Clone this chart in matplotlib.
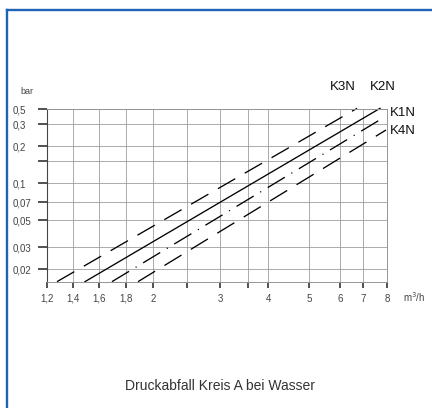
import numpy as np
import matplotlib
matplotlib.use("Agg")
import matplotlib.pyplot as plt
from matplotlib.lines import Line2D

plt.rcParams['font.family'] = ['Liberation Sans', 'DejaVu Sans']
plt.rcParams['lines.scale_dashes'] = False

# ---- data ----
x_ticks = [1.2, 1.4, 1.6, 1.8, 2.0, 2.5, 3.0, 3.5, 4.0, 5.0, 6.0, 7.0, 8.0]
x_tick_labels = ['1,2', '1,4', '1,6', '1,8', '2', '', '3', '', '4', '5', '6', '7', '8']
# axis calibration of the printed (non-uniform) flow scale
x_axis_pos = [47, 73, 99, 126, 153, 187, 220, 248, 268, 309, 340, 363, 387]

y_ticks = [0.02, 0.03, 0.05, 0.07, 0.1, 0.15, 0.2, 0.3, 0.4]
y_tick_labels = ['0,02', '0,03', '0,05', '0,07', '0,1', '', '0,2', '0,3', '0,5']

series_names = ['K3N', 'K2N', 'K1N', 'K4N']
flow_k3n = [1.277, 6.74]
dp_k3n = [0.0158, 0.405]
flow_k2n = [1.492, 7.71]
dp_k2n = [0.0158, 0.405]
flow_k1n = [1.696, 7.83]
dp_k1n = [0.0158, 0.338]
flow_k4n = [1.889, 7.96]
dp_k4n = [0.0158, 0.270]

title = 'Druckabfall Kreis A bei Wasser'

# ---- scale ----
xv = np.array(x_ticks, float)
xp = np.array(x_axis_pos, float)

def fwd(x):
    x = np.asarray(x, float)
    y = np.interp(x, xv, xp)
    lo = x < xv[0]
    hi = x > xv[-1]
    y = np.where(lo, xp[0] + (x - xv[0]) * (xp[1] - xp[0]) / (xv[1] - xv[0]), y)
    y = np.where(hi, xp[-1] + (x - xv[-1]) * (xp[-1] - xp[-2]) / (xv[-1] - xv[-2]), y)
    return y

def inv(p):
    p = np.asarray(p, float)
    x = np.interp(p, xp, xv)
    lo = p < xp[0]
    hi = p > xp[-1]
    x = np.where(lo, xv[0] + (p - xp[0]) * (xv[1] - xv[0]) / (xp[1] - xp[0]), x)
    x = np.where(hi, xv[-1] + (p - xp[-1]) * (xv[-1] - xv[-2]) / (xp[-1] - xp[-2]), x)
    return x

W, H = 432, 408
fig = plt.figure(figsize=(W / 100, H / 100), dpi=100)
fig.patch.set_facecolor('white')
ax = fig.add_axes([47 / W, (H - 282) / H, (387 - 47) / W, (282 - 109) / H])
ax.set_xscale('function', functions=(fwd, inv))
ax.set_yscale('log')
ax.set_xlim(1.2, 8.0)
ax.set_ylim(0.0157, 0.4)

grid_c = '#959595'
ax.set_xticks(x_ticks)
ax.set_xticklabels(x_tick_labels)
ax.set_yticks(y_ticks)
ax.set_yticklabels(y_tick_labels)
ax.xaxis.set_minor_locator(matplotlib.ticker.NullLocator())
ax.yaxis.set_minor_locator(matplotlib.ticker.NullLocator())
ax.grid(True, color=grid_c, lw=0.55)
ax.set_axisbelow(True)

ax.tick_params(axis='x', direction='out', length=4.5, width=1.1, color='#222',
               labelsize=7, labelcolor='#444', pad=4)
ax.tick_params(axis='y', direction='out', length=6.5, width=1.1, color='#222',
               labelsize=7, labelcolor='#444', pad=18.5)
for lbl in ax.get_yticklabels():
    lbl.set_horizontalalignment('left')

for s in ['top', 'right', 'bottom']:
    ax.spines[s].set_color(grid_c)
    ax.spines[s].set_linewidth(0.7)
ax.spines['left'].set_color('#444')
ax.spines['left'].set_linewidth(0.8)

lw = 0.95
ax.plot(flow_k3n, dp_k3n, color='black', lw=lw, dashes=(14.4, 7.9), clip_on=False)
ax.plot(flow_k2n, dp_k2n, color='black', lw=lw, clip_on=False)
ax.plot(flow_k1n, dp_k1n, color='black', lw=lw, dashes=(14.4, 5.5, 0.8, 5.5), clip_on=False)
ax.plot(flow_k4n, dp_k4n, color='black', lw=lw, dashes=(14.4, 7.9), clip_on=False)

# series labels
fig.text(343 / W, 1 - 87 / H, series_names[0], ha='center', va='center', fontsize=9.5, color='#111')
fig.text(383 / W, 1 - 87 / H, series_names[1], ha='center', va='center', fontsize=9.5, color='#111')
fig.text(390 / W, 1 - 113 / H, series_names[2], ha='left', va='center', fontsize=9.5, color='#111')
fig.text(390 / W, 1 - 131 / H, series_names[3], ha='left', va='center', fontsize=9.5, color='#111')

# unit labels
fig.text(20 / W, 1 - 91 / H, 'bar', ha='left', va='center', fontsize=6.5, color='#444')
fig.text(403 / W, 1 - 297 / H, 'm$^3$/h', ha='left', va='center', fontsize=7, color='#444')

fig.text(220 / W, 1 - 386 / H, title, ha='center', va='center', fontsize=10, color='#333')

# blue frame
blue = '#1f63b5'
fig.add_artist(Line2D([7 / W, 1.0], [1 - 10 / H, 1 - 10 / H], transform=fig.transFigure,
                      color=blue, lw=1.7))
fig.add_artist(Line2D([7 / W, 7 / W], [0.0, 1 - 10 / H], transform=fig.transFigure,
                      color=blue, lw=1.7))

fig.savefig('out.png', dpi=100, facecolor='white')
